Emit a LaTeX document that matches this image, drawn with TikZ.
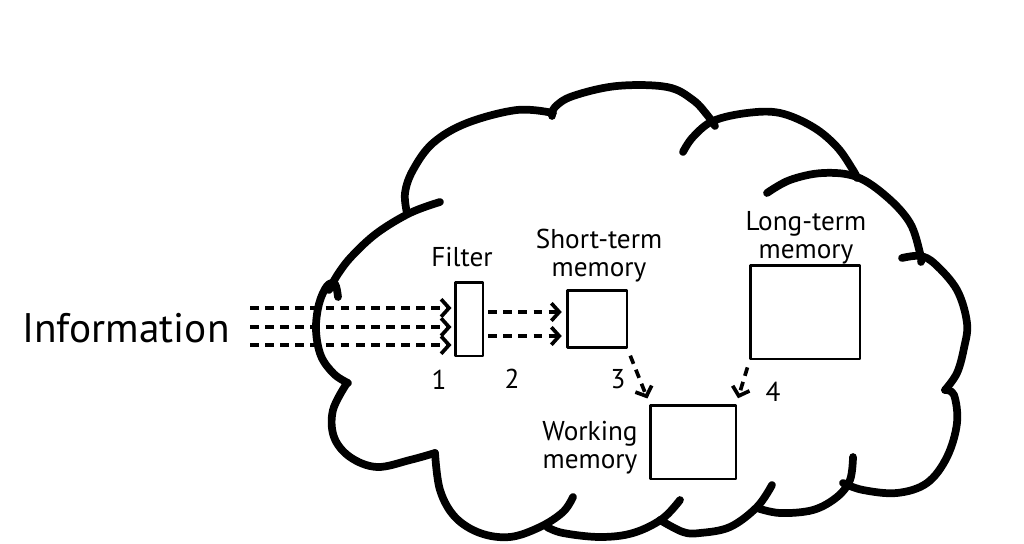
\documentclass[tikz,border=0pt]{standalone}
\usepackage{fontspec}
\setmainfont{PT Sans}
\usetikzlibrary{arrows.meta}
\begin{document}
\begin{tikzpicture}[x=0.02cm,y=-0.02cm,
  cloudline/.style={line width=4.4pt,line cap=round,line join=round},
  memobox/.style={draw,line width=1.7pt,inner sep=0pt,outer sep=0pt,line join=round},
  dasharrow/.style={line width=2.1pt,dash pattern=on 5pt off 3.6pt,
     -{Straight Barb[length=4.5pt,width=10pt,line width=2.1pt]}},
  lbl/.style={font=\fontsize{15.5}{16}\selectfont,align=center,inner sep=0pt},
  num/.style={font=\fontsize{15.5}{16}\selectfont,inner sep=0pt}]
\useasboundingbox (0,0) rectangle (1024,544);
% cloud strokes
\draw[cloudline] plot[smooth,tension=0.6] coordinates {(338,297) (335,284) (327,286) (319,304) (316,330) (321,356) (334,374) (348,383)};
\draw[cloudline] plot[smooth,tension=0.6] coordinates {(329,290) (338,274) (352,256) (377,233) (410,213) (440,202)};
\draw[cloudline] plot[smooth,tension=0.6] coordinates {(407,213) (405,193) (413,170) (433,143) (467,123) (517,110) (553,113)};
\draw[cloudline] plot[smooth,tension=0.6] coordinates {(552,116) (555,107) (573,96) (617,86) (667,87) (693,100) (708,116) (715,126)};
\draw[cloudline] plot[smooth,tension=0.6] coordinates {(683,152) (693,137) (713,121) (747,113) (780,113) (813,127) (837,147) (853,170) (857,178)};
\draw[cloudline] plot[smooth,tension=0.6] coordinates {(767,193) (790,180) (823,173) (857,177) (887,197) (910,223) (920,253) (921,262)};
\draw[cloudline] plot[smooth,tension=0.6] coordinates {(902,258) (920,256) (935,264) (957,290) (967,323) (964,348) (957,373) (945,390)};
\draw[cloudline] plot[smooth,tension=0.6] coordinates {(945,390) (954,395) (957,423) (947,457) (927,483) (897,493) (863,490) (843,483)};
\draw[cloudline] plot[smooth,tension=0.6] coordinates {(853,457) (850,480) (837,497) (813,510) (780,513) (757,508)};
\draw[cloudline] plot[smooth,tension=0.6] coordinates {(772,485) (757,507) (730,527) (700,533) (683,532) (660,520)};
\draw[cloudline] plot[smooth,tension=0.6] coordinates {(680,500) (662,519) (633,533) (600,537) (563,533) (547,527)};
\draw[cloudline] plot[smooth,tension=0.6] coordinates {(573,497) (563,512) (540,527) (510,537) (480,533) (455,517) (440,490) (435,453)};
\draw[cloudline] plot[smooth,tension=0.6] coordinates {(435,453) (410,460) (377,467) (350,457) (334,437) (333,410) (347,383)};
% boxes
\node[memobox,minimum width=0.56cm,minimum height=1.48cm] (filter) at (469,319) {};
\node[memobox,minimum width=1.2cm,minimum height=1.14cm] (short) at (597,319) {};
\node[memobox,minimum width=2.2cm,minimum height=1.88cm] (long) at (805,312) {};
\node[memobox,minimum width=1.72cm,minimum height=1.48cm] (work) at (693,442) {};
% labels
\node[font=\fontsize{23.5}{26}\selectfont,inner sep=0pt] (info) at (126,328) {Information};
\node[lbl] (lfilter) at (462,257) {Filter};
\node[lbl] (lshort) at (599,256) {Short-term\\memory};
\node[lbl] (llong) at (806,238) {Long-term\\memory};
\node[lbl] (lwork) at (590,448) {Working\\memory};
\node[num] (n1) at (439,380) {1};
\node[num] (n2) at (512,379) {2};
\node[num] (n3) at (618,379) {3};
\node[num] (n4) at (773,392) {4};
% arrows
\coordinate (in1) at (250,308);
\coordinate (in2) at (250,327);
\coordinate (in3) at (250,345);
\coordinate (f1) at (0,312);
\coordinate (f2) at (0,336);
\draw[dasharrow,shorten >=2pt] (in1) -- (in1 -| filter.west);
\draw[dasharrow,shorten >=2pt] (in2) -- (in2 -| filter.west);
\draw[dasharrow,shorten >=2pt] (in3) -- (in3 -| filter.west);
\draw[dasharrow,shorten <=3pt,shorten >=3pt] (filter.east |- f1) -- (short.west |- f1);
\draw[dasharrow,shorten <=3pt,shorten >=3pt] (filter.east |- f2) -- (short.west |- f2);
\draw[dasharrow,shorten <=5pt,shorten >=4pt] (short.south east) -- (work.north west);
\draw[dasharrow,shorten <=5pt,shorten >=4pt] (long.south west) -- (work.north east);
\end{tikzpicture}
\end{document}
